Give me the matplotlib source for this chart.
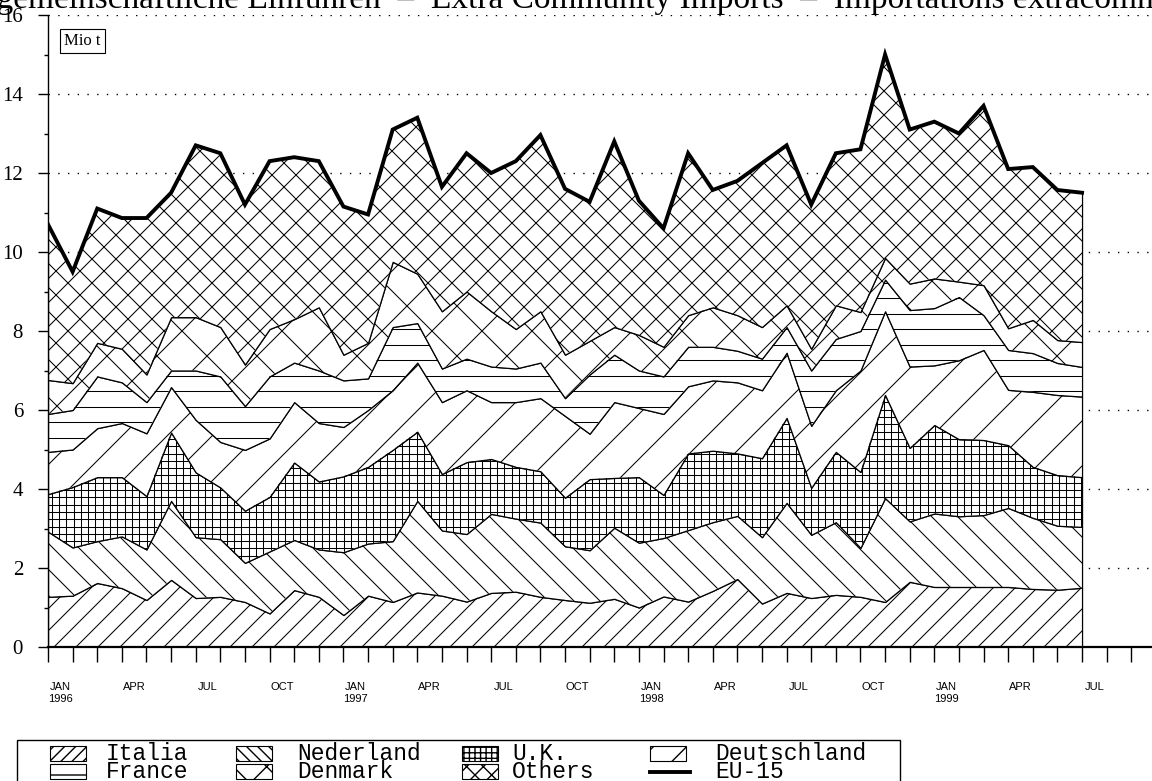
import numpy as np
import matplotlib
matplotlib.use("Agg")
import matplotlib.pyplot as plt
from matplotlib.collections import LineCollection
from matplotlib.patches import Rectangle
from matplotlib.lines import Line2D

# monthly values, Jan 1996 .. Jul 1999 (Mio t)
months = np.arange(43)

italia = [1.27, 1.30, 1.62, 1.49, 1.19, 1.70, 1.24, 1.27, 1.14, 0.85, 1.44, 1.27, 0.81, 1.30, 1.14,
          1.38, 1.30, 1.15, 1.37, 1.40, 1.27, 1.19, 1.12, 1.22, 1.00, 1.28, 1.15, 1.42, 1.72,
          1.10, 1.37, 1.24, 1.32, 1.27, 1.14, 1.65, 1.52, 1.52, 1.52, 1.52, 1.47, 1.45, 1.50]
nederland = [1.65, 1.22, 1.06, 1.31, 1.28, 2.00, 1.54, 1.46, 0.99, 1.57, 1.27, 1.20, 1.59, 1.32, 1.54,
             2.32, 1.65, 1.71, 2.00, 1.85, 1.88, 1.36, 1.33, 1.80, 1.64, 1.48, 1.81, 1.74, 1.60,
             1.68, 2.28, 1.60, 1.84, 1.24, 2.63, 1.53, 1.86, 1.79, 1.82, 2.00, 1.80, 1.62, 1.54]
uk = [0.95, 1.53, 1.62, 1.50, 1.35, 1.73, 1.64, 1.31, 1.32, 1.38, 1.96, 1.72, 1.92, 1.94, 2.31,
      1.75, 1.43, 1.82, 1.39, 1.31, 1.30, 1.23, 1.80, 1.26, 1.66, 1.09, 1.94, 1.81, 1.58,
      2.00, 2.15, 1.19, 1.78, 1.92, 2.61, 1.86, 2.24, 1.95, 1.90, 1.59, 1.29, 1.28, 1.26]
deutschland = [1.07, 0.95, 1.24, 1.37, 1.59, 1.15, 1.33, 1.15, 1.54, 1.48, 1.53, 1.48, 1.25, 1.44, 1.51,
               1.75, 1.82, 1.82, 1.44, 1.64, 1.85, 2.07, 1.15, 1.92, 1.75, 2.05, 1.70, 1.78, 1.80,
               1.72, 1.65, 1.57, 1.56, 2.57, 2.12, 2.06, 1.51, 2.00, 2.28, 1.40, 1.90, 2.03, 2.04]
france = [0.96, 1.00, 1.31, 1.03, 0.79, 0.42, 1.25, 1.66, 1.11, 1.57, 1.00, 1.33, 1.18, 0.80, 1.60,
          1.00, 0.85, 0.80, 0.90, 0.85, 0.90, 0.45, 1.50, 1.20, 0.95, 0.95, 1.00, 0.85, 0.80,
          0.80, 0.65, 1.40, 1.30, 1.00, 0.80, 1.43, 1.45, 1.60, 0.88, 1.01, 0.98, 0.81, 0.75]
denmark = [0.86, 0.68, 0.85, 0.85, 0.70, 1.35, 1.35, 1.25, 1.05, 1.20, 1.10, 1.60, 0.65, 0.90, 1.65,
           1.25, 1.45, 1.70, 1.40, 1.00, 1.30, 1.10, 0.85, 0.70, 0.90, 0.75, 0.80, 1.00, 0.90,
           0.80, 0.55, 0.55, 0.85, 0.48, 0.55, 0.67, 0.75, 0.39, 0.76, 0.55, 0.84, 0.58, 0.63]
others = [3.94, 2.82, 3.40, 3.31, 3.96, 3.15, 4.35, 4.40, 4.05, 4.25, 4.10, 3.70, 3.75, 3.25, 3.35,
          3.95, 3.15, 3.50, 3.50, 4.25, 4.46, 4.20, 3.52, 4.70, 3.40, 3.00, 4.10, 2.97, 3.40,
          4.15, 4.05, 3.65, 3.85, 4.12, 5.15, 3.90, 3.97, 3.75, 4.54, 4.03, 3.87, 3.80, 3.78]

series = [italia, nederland, uk, deutschland, france, denmark, others]
names = ['Italia', 'Nederland', 'U.K.', 'Deutschland', 'France', 'Denmark', 'Others']
# hatch kind and spacing in pixels for each layer
hatches = [('/', 22), ('\\', 26), ('-|', 7.3), ('/', 45), ('-', 15.5), ('/\\', 50), ('/\\', 24)]
legend_hatch = ['///', '\\\\\\', '+++', '/', '-', 'x', 'xx']

tick_pos = np.arange(0, 43, 3)
tick_labels = ['JAN\n1996', 'APR', 'JUL', 'OCT', 'JAN\n1997', 'APR', 'JUL', 'OCT',
               'JAN\n1998', 'APR', 'JUL', 'OCT', 'JAN\n1999', 'APR', 'JUL']

title = 'Außergemeinschaftliche Einfuhren  –  Extra Community Imports  –  Importations extracommunautaires'


def hatch_layer(ax, poly, kind, step, lw=0.75):
    bb = ax.get_window_extent()
    w, h = bb.width, bb.height
    segs = []
    for ch in kind:
        if ch == '-':
            for y in np.arange(step / 2, h, step):
                segs.append([(0, y / h), (1, y / h)])
        elif ch == '|':
            for x in np.arange(step / 2, w, step):
                segs.append([(x / w, 0), (x / w, 1)])
        elif ch == '/':
            for c in np.arange(-h, w, step):
                segs.append([(c / w, 0), ((c + h) / w, 1)])
        elif ch == '\\':
            for c in np.arange(0, w + h, step):
                segs.append([(c / w, 0), ((c - h) / w, 1)])
    lc = LineCollection(segs, colors='black', linewidths=lw, transform=ax.transAxes, zorder=2.5)
    lc.set_clip_path(poly.get_paths()[0], ax.transData)
    ax.add_collection(lc, autolim=False)


fig = plt.figure(figsize=(11.52, 7.81), dpi=100)
ax = fig.add_axes([48 / 1152, 134 / 781, 1104 / 1152, 632 / 781])
ax.set_xlim(0, 1104 / 24.62)
ax.set_ylim(0, 16)

bottom = np.zeros(len(months))
for vals, (kind, step) in zip(series, hatches):
    top = bottom + np.array(vals)
    poly = ax.fill_between(months, bottom, top, facecolor='white', edgecolor='black',
                           linewidth=0.9, zorder=2)
    hatch_layer(ax, poly, kind, step)
    bottom = top

eu15 = bottom
ax.plot(months, eu15, color='black', linewidth=2.8, zorder=4, solid_joinstyle='miter')

# axes styling
for s in ['top', 'right']:
    ax.spines[s].set_visible(False)
ax.spines['left'].set_linewidth(1.0)
ax.spines['bottom'].set_linewidth(1.6)
ax.spines['bottom'].set_zorder(5)

ax.set_yticks(np.arange(0, 17, 2))
ax.set_yticks(np.arange(1, 16, 2), minor=True)
ax.tick_params(axis='y', which='major', length=7, width=1.0, pad=11, labelsize=15)
ax.tick_params(axis='y', which='minor', length=3, width=1.0)
for lab in ax.get_yticklabels():
    lab.set_family('Liberation Serif')
ax.yaxis.grid(True, linestyle=(0, (1, 6)), color='black', linewidth=1.0)
ax.set_axisbelow(True)

ax.set_xticks(np.arange(0, 45))
ax.set_xticklabels([])
ax.tick_params(axis='x', which='major', length=11, width=1.0, direction='out')
ax.set_xticks(tick_pos + 0.5, tick_labels, minor=True)
ax.tick_params(axis='x', which='minor', length=0, pad=25)
for lab in ax.get_xticklabels(minor=True):
    lab.set_family(['Liberation Sans Narrow', 'Liberation Sans'])
    lab.set_fontsize(8)
    lab.set_linespacing(1.3)

ax.text(0.0145, 0.959, 'Mio t', transform=ax.transAxes, va='center', ha='left',
        fontsize=12, family='Liberation Serif', zorder=6,
        bbox=dict(boxstyle='square,pad=0.25', fc='white', ec='black', lw=0.8))

fig.text(607 / 1152, 1 - 8 / 781, title, ha='center', va='baseline',
         fontsize=24, family='Liberation Serif')

# legend drawn by hand in figure pixels (y up from the lower edge); its lower edge runs off the page
lax = fig.add_axes([0, 0, 1, 42 / 781])
lax.set_xlim(0, 1152)
lax.set_ylim(0, 42)
lax.axis('off')
lax.add_patch(Rectangle((17, -10), 883, 51.5, fill=False, lw=1.0, clip_on=False))
col_patch = [50, 236, 462, 650]
col_text = [106, 297, 512, 715]
rows = [21, 3]
for k, name in enumerate(names + ['EU-15']):
    r, c = divmod(k, 4)
    y = rows[r]
    if name == 'EU-15':
        lax.add_line(Line2D([col_patch[c], col_patch[c] + 40], [y + 6, y + 6], color='black', lw=2.8))
    else:
        lax.add_patch(Rectangle((col_patch[c], y - 1), 36, 15, facecolor='white', edgecolor='black',
                                lw=0.8, hatch=legend_hatch[k]))
    lax.text(col_text[c], y, name, va='baseline', ha='left', fontsize=16.5, family='Liberation Mono')

fig.savefig('out.png', dpi=100)
